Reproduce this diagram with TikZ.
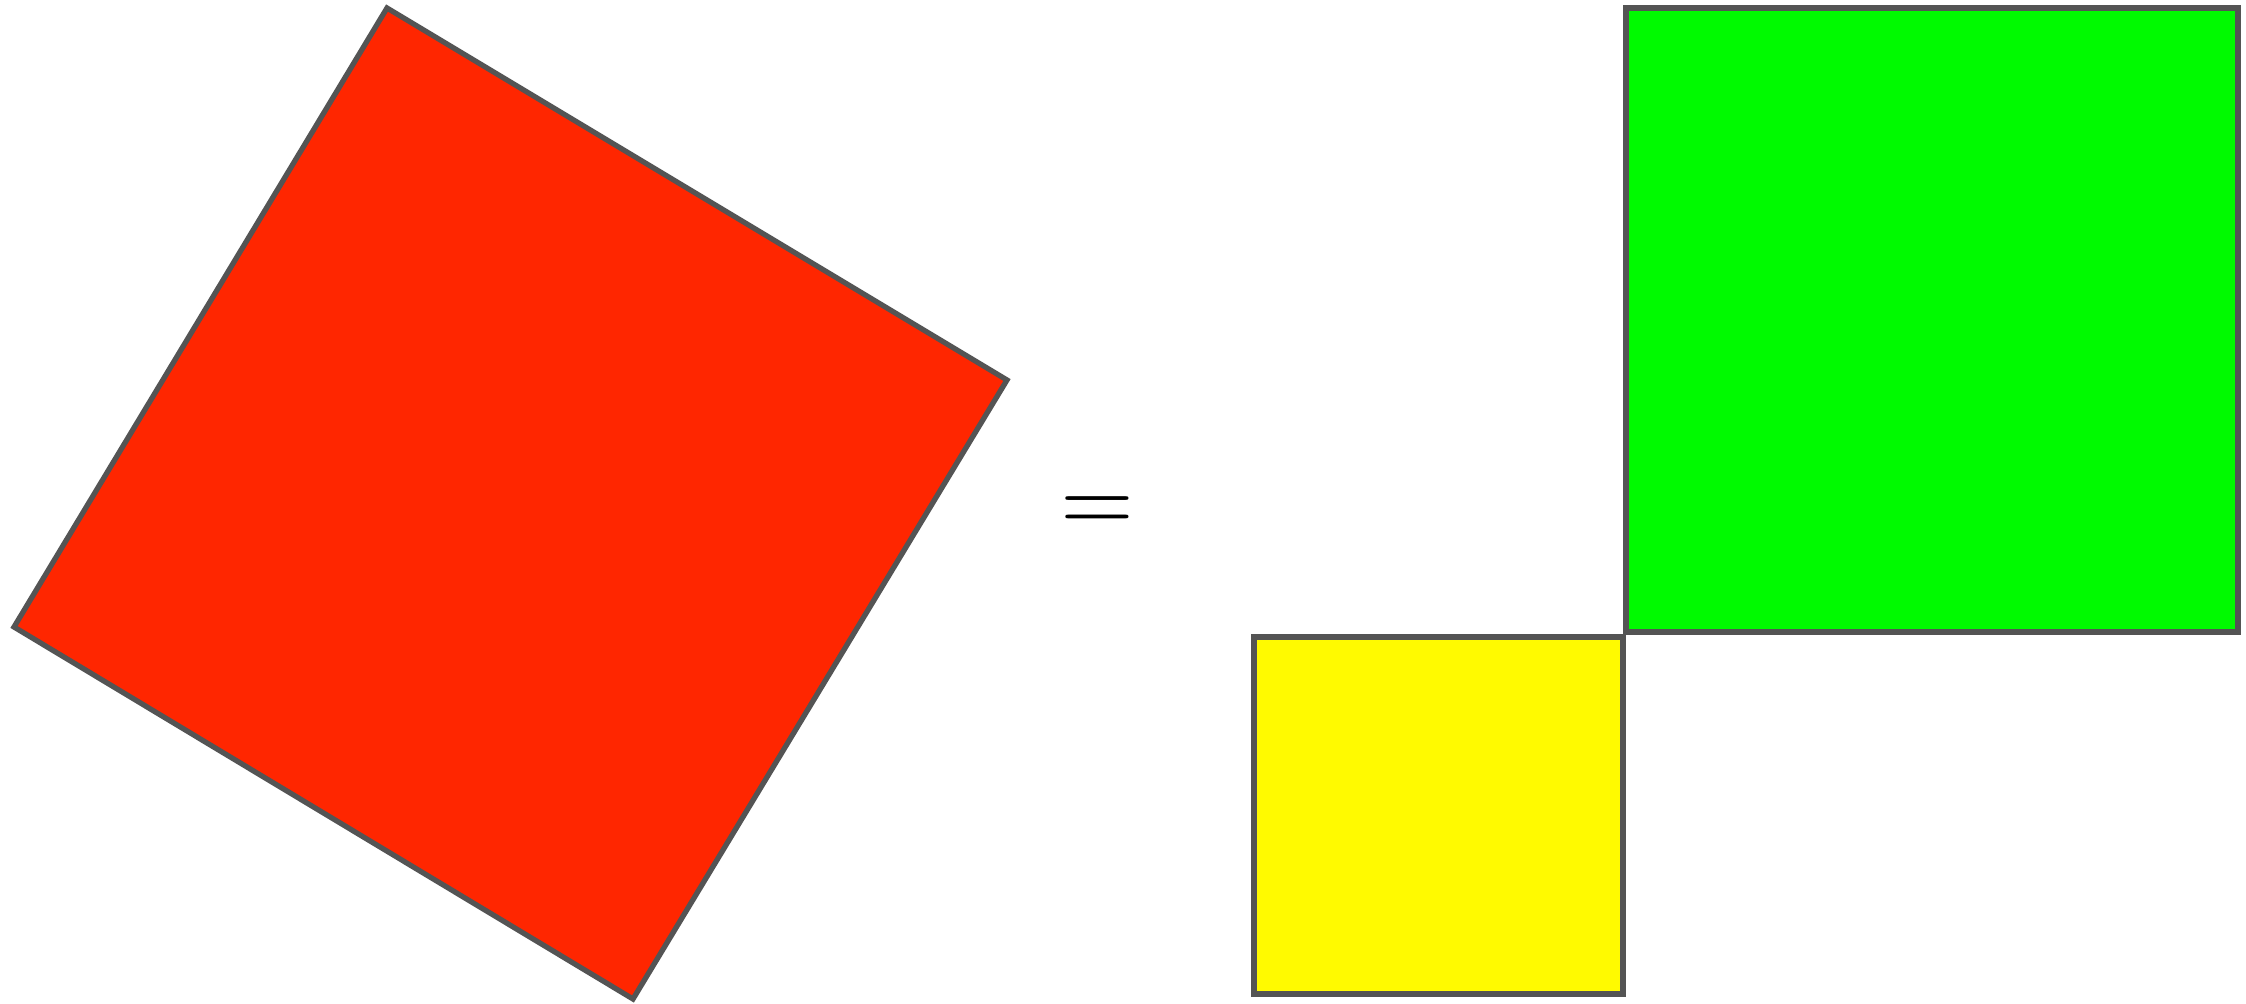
\documentclass[tikz,border=0pt]{standalone}
\begin{document}
\begin{tikzpicture}[x=0.01cm,y=-0.01cm,
  tile/.style={draw=black!67,line width=1.5pt,line join=miter}]
\useasboundingbox (0,0) rectangle (2246,1004);
\coordinate (rt) at (387,8);
\coordinate (rr) at (1007,380);
\coordinate (rb) at (633,999);
\coordinate (rl) at (14,627);
\filldraw[tile,fill={rgb,255:red,255;green,38;blue,0}] (rt) -- (rr) -- (rb) -- (rl) -- cycle;
\filldraw[tile,fill={rgb,255:red,0;green,250;blue,0}] (1626,8) rectangle (2238,632);
\filldraw[tile,fill={rgb,255:red,255;green,250;blue,0}] (1254,637) rectangle (1623,994);
\node[scale=2.7,inner sep=0pt] (eq) at (1097,514.5) {$=$};
\end{tikzpicture}
\end{document}
